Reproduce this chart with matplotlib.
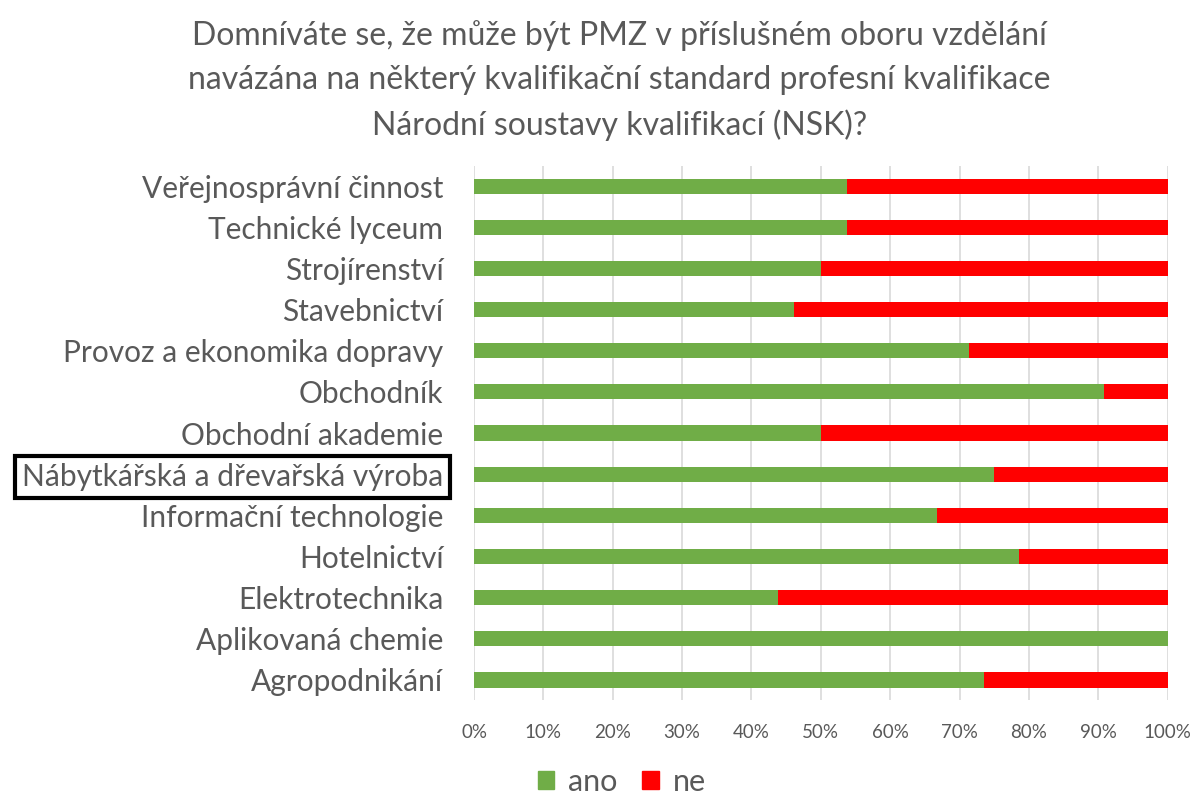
import numpy as np
import matplotlib
matplotlib.use("Agg")
import matplotlib.pyplot as plt
from matplotlib.patches import Patch

plt.rcParams['font.family'] = ['Lato', 'DejaVu Sans']

# categories, top to bottom as in the picture
obory = ["Veřejnosprávní činnost", "Technické lyceum", "Strojírenství",
         "Stavebnictví", "Provoz a ekonomika dopravy", "Obchodník",
         "Obchodní akademie", "Nábytkářská a dřevařská výroba",
         "Informační technologie", "Hotelnictví", "Elektrotechnika",
         "Aplikovaná chemie", "Agropodnikání"]
ano = [53.8, 53.8, 50.0, 46.2, 71.4, 90.9, 50.0, 75.0, 66.7, 78.6, 43.8, 100.0, 73.6]
ne = [100 - v for v in ano]
zvyrazneny = "Nábytkářská a dřevařská výroba"

green = '#70AD47'
red = '#FF0000'
gray = '#595959'

fig = plt.figure(figsize=(12, 7.96), dpi=100)
ax = fig.add_axes([0.395, 0.12, 0.578, 0.672])

y = np.arange(len(obory))
ax.barh(y, ano, height=0.37, color=green, label='ano', zorder=2)
ax.barh(y, ne, left=ano, height=0.37, color=red, label='ne', zorder=2)

ax.set_xlim(0, 100)
ax.set_ylim(len(obory) - 0.5, -0.5)
ax.set_yticks(y)
ax.set_yticklabels(obory, fontsize=21.5, color=gray)
ax.set_xticks(np.arange(0, 101, 10))
ax.set_xticklabels([f"{v}%" for v in range(0, 101, 10)], fontsize=13.5, color=gray)
ax.tick_params(length=0)
ax.tick_params(axis='y', pad=22)
ax.tick_params(axis='x', pad=17)
ax.grid(axis='x', color='#D9D9D9', linewidth=1.2, zorder=0)
for s in ax.spines.values():
    s.set_visible(False)

for lab in ax.get_yticklabels():
    if lab.get_text() == zvyrazneny:
        lab.set_bbox(dict(facecolor='none', edgecolor='black', linewidth=3, pad=5))

fig.text(0.516, 0.975, "Domníváte se, že může být PMZ v příslušném oboru vzdělání\n"
         "navázána na některý kvalifikační standard profesní kvalifikace\n"
         "Národní soustavy kvalifikací (NSK)?",
         ha='center', va='top', fontsize=23, color=gray, linespacing=1.58)

handles = [Patch(color=green, label='ano'), Patch(color=red, label='ne')]
fig.legend(handles=handles, loc='center', bbox_to_anchor=(0.518, 0.018), ncol=2,
           frameon=False, fontsize=22, handlelength=0.55, handleheight=0.55,
           handletextpad=0.45, columnspacing=0.8, labelcolor=gray)

fig.savefig("out.png", dpi=100)
